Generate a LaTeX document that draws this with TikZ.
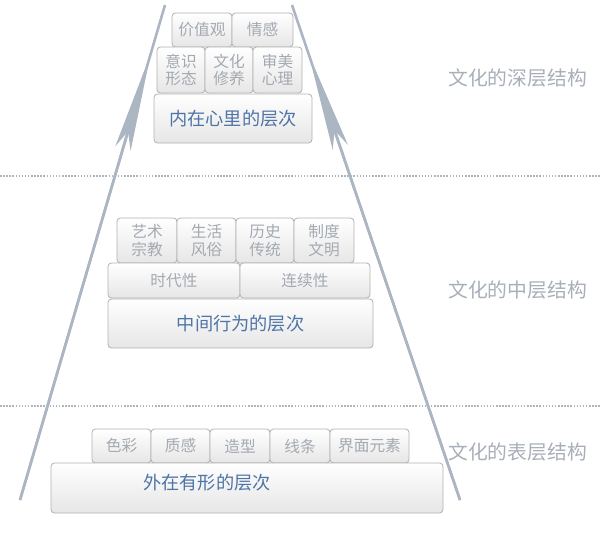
\documentclass[tikz,border=0pt]{standalone}
\usepackage{fontspec}
\usepackage{tikz}
\usetikzlibrary{positioning,calc,arrows.meta}
\newfontfamily\cjk{Noto Sans CJK SC}
\definecolor{boxline}{HTML}{B2B2B2}
\definecolor{boxbot}{HTML}{E6E6E6}
\definecolor{smalltxt}{HTML}{A4AAB1}
\definecolor{maintxt}{HTML}{4F74A6}
\definecolor{sidetxt}{HTML}{A8AFB8}
\definecolor{arrowgray}{HTML}{ABB6C2}
\definecolor{sepgray}{HTML}{B0B5BA}

\begin{document}
\begin{tikzpicture}[x=1pt, y=-1pt,
    box/.style={draw=boxline, line width=0.8pt, rounded corners=3.5pt, top color=white, bottom color=boxbot, inner sep=0pt, outer sep=0pt, align=center},
    small/.style={box, text=smalltxt, font=\cjk\fontsize{15.7}{17.5}\selectfont},
    big/.style={box, text=maintxt, font=\cjk\fontsize{18.2}{21}\selectfont},
    side/.style={text=sidetxt, font=\cjk\fontsize{19.8}{23}\selectfont},
    rise/.style={draw=arrowgray, line width=2.6pt},
    sep/.style={draw=sepgray, line width=1.5pt, dash pattern=on 1.5pt off 1.6pt}]
    \useasboundingbox (0,0) rectangle (600,543);

    \draw [sep] (0,176) -- (600,176);
    \draw [sep] (0,406) -- (600,406);

    % the two rising arrows
    \coordinate (lb) at (20,500);  \coordinate (lt) at (165,5);
    \coordinate (rb) at (460,500); \coordinate (rt) at (292,5);
    \coordinate (la) at ($(lb)!0.9!(lt)$);
    \coordinate (ra) at ($(rb)!0.9!(rt)$);
    \draw [rise] (lb) -- (lt);
    \draw [rise] (rb) -- (rt);
    \draw [rise, -{Stealth[length=98pt, width=16pt, inset=18pt]}] (lb) -- (la);
    \draw [rise, -{Stealth[length=98pt, width=16pt, inset=18pt]}] (rb) -- (ra);

    % deep layer
    \node [small, minimum width=60pt, minimum height=34pt] (val) at (202,30) {价值观};
    \node [small, minimum width=61pt, minimum height=34pt] (emo) at (262.5,30) {情感};
    \node [small, minimum width=48pt, minimum height=46pt] (ideo) at (181,70) {意识\\形态};
    \node [small, minimum width=48pt, minimum height=46pt] (cult) at (229,70) {文化\\修养};
    \node [small, minimum width=49pt, minimum height=46pt] (aest) at (277.5,70) {审美\\心理};
    \node [big, minimum width=158pt, minimum height=49pt] (inner) at (233,118.5) {内在心里的层次};

    % middle layer
    \node [small, minimum width=60pt, minimum height=45pt] (art) at (147,240.5) {艺术\\宗教};
    \node [small, minimum width=59pt, minimum height=45pt] (life) at (206.5,240.5) {生活\\风俗};
    \node [small, minimum width=58pt, minimum height=45pt] (hist) at (265,240.5) {历史\\传统};
    \node [small, minimum width=60pt, minimum height=45pt] (inst) at (324,240.5) {制度\\文明};
    \node [small, minimum width=132pt, minimum height=35pt] (era) at (174,280.5) {时代性};
    \node [small, minimum width=130pt, minimum height=35pt] (cont) at (305,280.5) {连续性};
    \node [big, minimum width=265pt, minimum height=49pt] (mid) at (240.5,323.5) {中间行为的层次};

    % surface layer
    \node [small, minimum width=59pt, minimum height=34pt] (hue) at (121.5,446) {色彩};
    \node [small, minimum width=59pt, minimum height=34pt] (feel) at (180.5,446) {质感};
    \node [small, minimum width=60pt, minimum height=34pt] (form) at (240,446) {造型};
    \node [small, minimum width=60pt, minimum height=34pt] (lines) at (300,446) {线条};
    \node [small, minimum width=79pt, minimum height=34pt] (ui) at (369.5,446) {界面元素};
    \node [box, minimum width=392pt, minimum height=50pt] (outer) at (247,488) {};
    \node [text=maintxt, font=\cjk\fontsize{18.2}{21}\selectfont] (outertxt) at (207,483) {外在有形的层次};

    \node [side] (deep) at (517.5,78) {文化的深层结构};
    \node [side] (middle) at (517.5,290) {文化的中层结构};
    \node [side] (surface) at (517.5,452) {文化的表层结构};
\end{tikzpicture}
\end{document}
